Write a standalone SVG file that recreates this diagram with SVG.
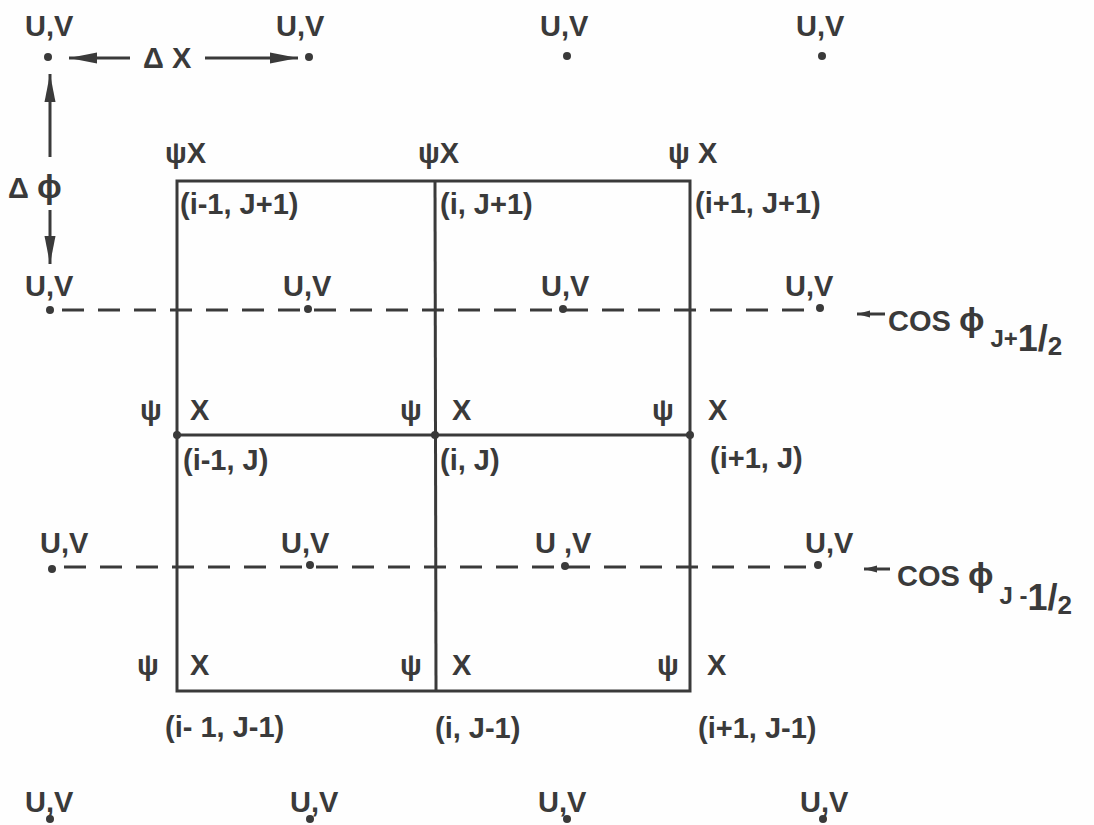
<svg xmlns="http://www.w3.org/2000/svg" width="1094" height="825" viewBox="0 0 1094 825">
<defs>
<style>
.t{font-family:"Liberation Sans","DejaVu Sans",Arial,sans-serif;font-size:29px;font-weight:bold;fill:#3a3a3a}
.s{font-size:24px}
.g{stroke:#3a3a3a;stroke-width:3;fill:none}
.d{stroke:#3a3a3a;stroke-width:3;stroke-dasharray:22 14;fill:none}
.a{stroke:#3a3a3a;stroke-width:3;fill:none}
.dot{fill:#3a3a3a}
</style>
<marker id="ah" markerUnits="userSpaceOnUse" markerWidth="30" markerHeight="14" refX="28" refY="7" orient="auto"><path d="M0,1.5 L28,7 L0,12.5 z" fill="#3a3a3a"/></marker>
<marker id="ahs" markerUnits="userSpaceOnUse" markerWidth="14" markerHeight="8" refX="13" refY="4" orient="auto"><path d="M0,0.5 L13,4 L0,7.5 z" fill="#3a3a3a"/></marker>
</defs>
<rect width="1094" height="825" fill="#fefefe"/>

<g id="grid">
<rect class="g" x="177" y="181" width="513" height="510"/>
<line class="g" x1="435" y1="181" x2="436" y2="691"/>
<line class="g" x1="177" y1="435" x2="690" y2="435"/>
<circle class="dot" cx="177" cy="435" r="4"/>
<circle class="dot" cx="435" cy="435" r="4"/>
<circle class="dot" cx="690" cy="435" r="4"/>
</g>

<g id="dashed">
<line class="d" x1="62" y1="310" x2="812" y2="310"/>
<line class="d" x1="64" y1="567" x2="808" y2="567"/>
</g>

<g id="uv-points">
<g id="uv-r1c1"><text class="t" x="25" y="36">U,V</text><circle class="dot" cx="48" cy="57" r="4"/></g>
<g id="uv-r1c2"><text class="t" x="276" y="36">U,V</text><circle class="dot" cx="309" cy="57" r="4"/></g>
<g id="uv-r1c3"><text class="t" x="540" y="36">U,V</text><circle class="dot" cx="567" cy="56" r="4"/></g>
<g id="uv-r1c4"><text class="t" x="796" y="36">U,V</text><circle class="dot" cx="822" cy="56" r="4"/></g>

<g id="uv-r2c1"><text class="t" x="25" y="296">U,V</text><circle class="dot" cx="50" cy="310" r="4"/></g>
<g id="uv-r2c2"><text class="t" x="283" y="296">U,V</text><circle class="dot" cx="308" cy="309" r="4"/></g>
<g id="uv-r2c3"><text class="t" x="541" y="296">U,V</text><circle class="dot" cx="563" cy="309" r="4"/></g>
<g id="uv-r2c4"><text class="t" x="785" y="296">U,V</text><circle class="dot" cx="820" cy="308" r="4"/></g>

<g id="uv-r3c1"><text class="t" x="40" y="553">U,V</text><circle class="dot" cx="52" cy="569" r="4"/></g>
<g id="uv-r3c2"><text class="t" x="281" y="553">U,V</text><circle class="dot" cx="310" cy="565" r="4"/></g>
<g id="uv-r3c3"><text class="t" x="535" y="553">U ,V</text><circle class="dot" cx="565" cy="566" r="4"/></g>
<g id="uv-r3c4"><text class="t" x="805" y="553">U,V</text><circle class="dot" cx="818" cy="565" r="4"/></g>

<g id="uv-r4c1"><text class="t" x="25" y="812">U,V</text><circle class="dot" cx="50" cy="819" r="4"/></g>
<g id="uv-r4c2"><text class="t" x="290" y="812">U,V</text><circle class="dot" cx="310" cy="819" r="4"/></g>
<g id="uv-r4c3"><text class="t" x="538" y="812">U,V</text><circle class="dot" cx="567" cy="819" r="4"/></g>
<g id="uv-r4c4"><text class="t" x="800" y="812">U,V</text><circle class="dot" cx="823" cy="819" r="4"/></g>
</g>

<g id="psi-x-labels">
<text class="t" x="165" y="163">ψX</text>
<text class="t" x="418" y="163">ψX</text>
<text class="t" x="668" y="163">ψ X</text>
<text class="t" x="140" y="420">ψ</text><text class="t" x="190" y="420">X</text>
<text class="t" x="400" y="420">ψ</text><text class="t" x="452" y="420">X</text>
<text class="t" x="652" y="420">ψ</text><text class="t" x="708" y="420">X</text>
<text class="t" x="137" y="675">ψ</text><text class="t" x="190" y="675">X</text>
<text class="t" x="400" y="675">ψ</text><text class="t" x="452" y="675">X</text>
<text class="t" x="657" y="675">ψ</text><text class="t" x="707" y="675">X</text>
</g>

<g id="node-labels">
<text class="t" x="180" y="214">(i-1, J+1)</text>
<text class="t" x="440" y="214">(i, J+1)</text>
<text class="t" x="695" y="213">(i+1, J+1)</text>
<text class="t" x="183" y="470">(i-1, J)</text>
<text class="t" x="440" y="470">(i, J)</text>
<text class="t" x="710" y="468">(i+1, J)</text>
<text class="t" x="165" y="737">(i- 1, J-1)</text>
<text class="t" x="435" y="738">(i, J-1)</text>
<text class="t" x="698" y="738">(i+1, J-1)</text>
</g>

<g id="connectors">
<line class="a" x1="130" y1="58" x2="69" y2="58" marker-end="url(#ah)"/>
<line class="a" x1="205" y1="58" x2="298" y2="58" marker-end="url(#ah)"/>
<line class="a" x1="50" y1="157" x2="50" y2="74" marker-end="url(#ah)"/>
<line class="a" x1="50" y1="210" x2="50" y2="264" marker-end="url(#ah)"/>
<line class="a" x1="885" y1="314" x2="857" y2="314" marker-end="url(#ahs)"/>
<line class="a" x1="890" y1="569" x2="864" y2="569" marker-end="url(#ahs)"/>
</g>

<g id="delta-labels">
<text class="t" x="143" y="68">Δ X</text>
<text class="t" x="8" y="198">Δ <tspan font-size="33">ϕ</tspan></text>
</g>

<g id="cos-labels">
<text class="t" x="888" y="331">COS <tspan font-size="34">ϕ</tspan><tspan class="s" dx="6" dy="16">J+</tspan><tspan font-size="36" dy="4">1/</tspan><tspan font-size="26" dy="4">2</tspan></text>
<text class="t" x="897" y="586">COS <tspan font-size="34">ϕ</tspan><tspan class="s" dx="6" dy="18">J -</tspan><tspan font-size="36" dy="6">1/</tspan><tspan font-size="26" dy="4">2</tspan></text>
</g>
</svg>
